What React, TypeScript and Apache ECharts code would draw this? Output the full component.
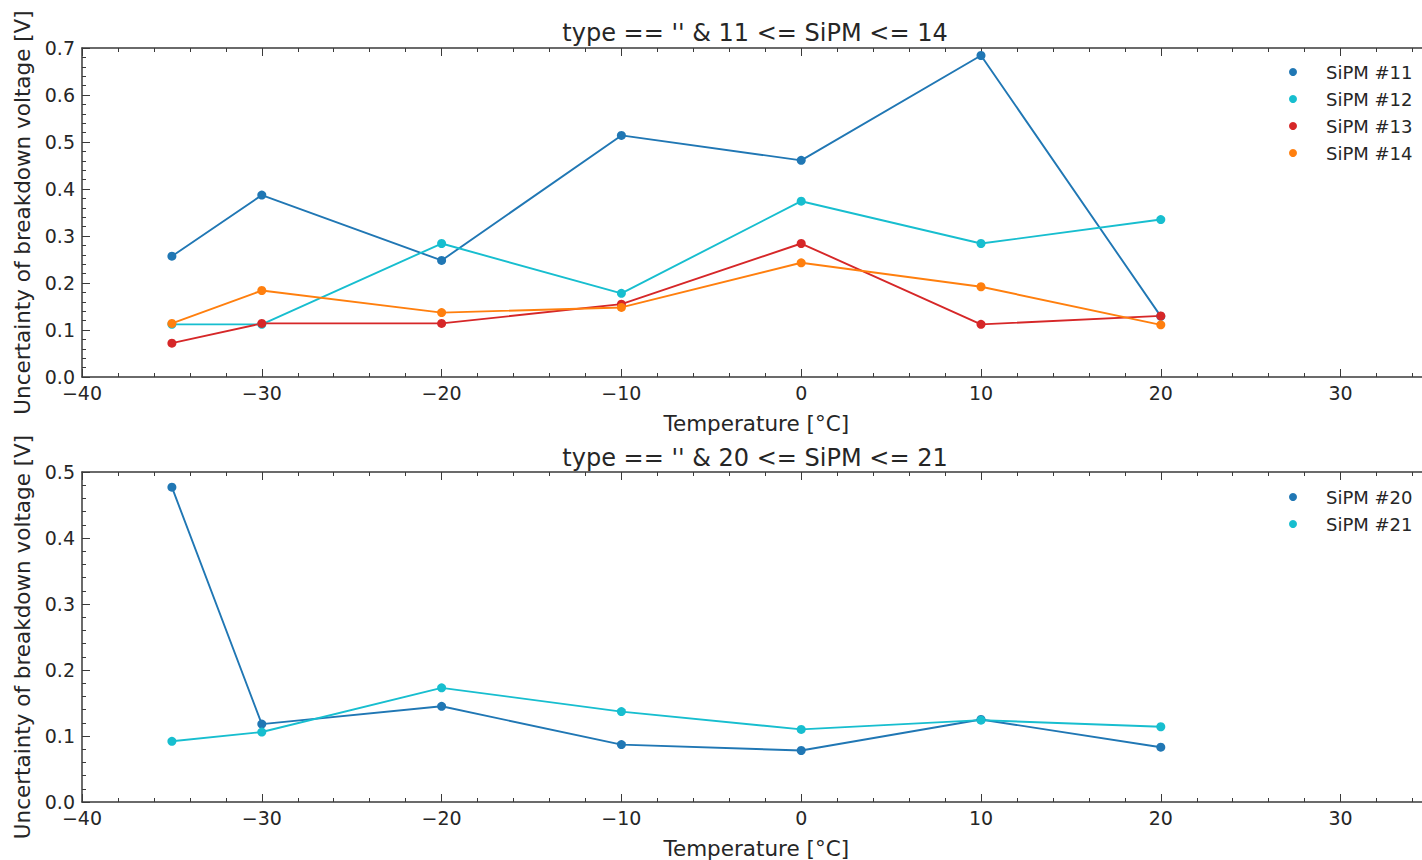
import React, { useEffect, useRef } from "react";
import * as echarts from "echarts";

// ---- data ----
const temperatures = [-35, -30, -20, -10, 0, 10, 20];
const sipm11 = [0.257, 0.387, 0.248, 0.514, 0.461, 0.684, 0.129];
const sipm12 = [0.112, 0.112, 0.284, 0.178, 0.374, 0.284, 0.335];
const sipm13 = [0.072, 0.114, 0.114, 0.155, 0.284, 0.112, 0.13];
const sipm14 = [0.114, 0.184, 0.137, 0.148, 0.243, 0.192, 0.111];
const sipm20 = [0.477, 0.118, 0.145, 0.087, 0.078, 0.125, 0.083];
const sipm21 = [0.092, 0.106, 0.173, 0.137, 0.11, 0.124, 0.114];

const topNames = ["SiPM #11", "SiPM #12", "SiPM #13", "SiPM #14"];
const bottomNames = ["SiPM #20", "SiPM #21"];
const topTitle = "type == '' & 11 <= SiPM <= 14";
const bottomTitle = "type == '' & 20 <= SiPM <= 21";
const xLabel = "Temperature [°C]";
const yLabel = "Uncertainty of breakdown voltage [V]";

const xMin = -40;
const xMax = 35;
const xMajor = 10;
const xMinor = 2;
const topYMax = 0.7;
const bottomYMax = 0.5;
const yMajor = 0.1;

const colors = {
  blue: "#2077b4",
  cyan: "#17becf",
  red: "#d62728",
  orange: "#ff7f0e",
};

const FONT = "DejaVu Sans";
const TEXT = "#262626";
const AXIS = "#3a3a3a";

const pairs = (ys: number[]) => temperatures.map((t, i) => [t, ys[i]]);

export default function App() {
  const ref = useRef<HTMLDivElement>(null);

  useEffect(() => {
    if (!ref.current) return;
    const chart = echarts.init(ref.current, null, { renderer: "svg" });

    const gridBase = { left: 82, width: 1348.5, outerBoundsMode: "none", containLabel: false };
    const gridTop = { ...gridBase, top: 48, height: 329 };
    const gridBottom = { ...gridBase, top: 472, height: 330 };

    const minus = (v: number) => (v < 0 ? "\u2212" + Math.abs(v) : String(v));

    const majorX = (gridIndex: number, position: string, labelled: boolean) => ({
      type: "value",
      gridIndex,
      position,
      min: xMin,
      max: xMax,
      interval: xMajor,
      splitLine: { show: false },
      axisLine: { show: true, onZero: false, lineStyle: { color: AXIS, width: 1.5 } },
      axisTick: { show: true, inside: true, length: 8, lineStyle: { color: AXIS, width: 1 } },
      axisLabel: labelled
        ? {
            show: true,
            margin: 9,
            lineHeight: 14,
            fontFamily: FONT,
            fontSize: 19,
            color: TEXT,
            showMaxLabel: false,
            formatter: (v: number) => minus(v),
          }
        : { show: false },
      name: labelled ? xLabel : "",
      nameLocation: "middle",
      nameGap: 35,
      nameTextStyle: { fontFamily: FONT, fontSize: 21.5, color: TEXT },
    });

    const minorX = (gridIndex: number, position: string) => ({
      type: "value",
      gridIndex,
      position,
      min: xMin,
      max: xMax,
      interval: xMinor,
      splitLine: { show: false },
      axisLine: { show: false, onZero: false },
      axisTick: { show: true, inside: true, length: 4, lineStyle: { color: AXIS, width: 1 } },
      axisLabel: { show: false },
    });

    const mainY = (gridIndex: number, max: number) => ({
      type: "value",
      gridIndex,
      position: "left",
      min: 0,
      max,
      interval: yMajor,
      splitLine: { show: false },
      axisLine: { show: true, onZero: false, lineStyle: { color: AXIS, width: 1.5 } },
      axisTick: { show: true, inside: true, length: 8, lineStyle: { color: AXIS, width: 1 } },
      minorTick: { show: true, splitNumber: 5, length: 4, lineStyle: { color: AXIS, width: 1 } },
      axisLabel: {
        show: true,
        margin: 7,
        lineHeight: 14,
        fontFamily: FONT,
        fontSize: 19,
        color: TEXT,
        formatter: (v: number) => v.toFixed(1),
      },
      name: yLabel,
      nameLocation: "middle",
      nameGap: 44,
      nameTextStyle: { fontFamily: FONT, fontSize: 21.5, color: TEXT },
    });

    const hiddenY = (gridIndex: number) => ({
      type: "value",
      gridIndex,
      show: false,
      min: 0,
      max: 1,
    });

    const lineSeries = (name: string, ys: number[], color: string, xi: number, yi: number) => ({
      type: "line",
      name,
      xAxisIndex: xi,
      yAxisIndex: yi,
      data: pairs(ys),
      symbol: "circle",
      symbolSize: 9,
      showSymbol: true,
      lineStyle: { color, width: 1.9 },
      itemStyle: { color },
      emphasis: { disabled: true },
    });

    const legendCommon = {
      orient: "vertical",
      left: 1289,
      icon: "circle",
      itemWidth: 8,
      itemHeight: 8,
      itemGap: 7,
      padding: 0,
      textStyle: {
        fontFamily: FONT,
        fontSize: 18,
        color: TEXT,
        lineHeight: 20,
        padding: [0, 0, 0, 24],
      },
    };

    chart.setOption({
      animation: false,
      backgroundColor: "#ffffff",
      textStyle: { fontFamily: FONT },
      title: [
        {
          text: topTitle,
          left: 755,
          top: 21,
          textAlign: "center",
          padding: 0,
          textStyle: { fontFamily: FONT, fontSize: 24, fontWeight: "normal", color: TEXT },
        },
        {
          text: bottomTitle,
          left: 755,
          top: 446,
          textAlign: "center",
          padding: 0,
          textStyle: { fontFamily: FONT, fontSize: 24, fontWeight: "normal", color: TEXT },
        },
      ],
      legend: [
        { ...legendCommon, top: 62, data: topNames },
        { ...legendCommon, top: 487, data: bottomNames },
      ],
      grid: [gridTop, { ...gridTop }, gridBottom, { ...gridBottom }],
      xAxis: [
        majorX(0, "bottom", true),
        majorX(0, "top", false),
        minorX(1, "bottom"),
        minorX(1, "top"),
        majorX(2, "bottom", true),
        majorX(2, "top", false),
        minorX(3, "bottom"),
        minorX(3, "top"),
      ],
      yAxis: [mainY(0, topYMax), hiddenY(1), mainY(2, bottomYMax), hiddenY(3)],
      series: [
        lineSeries(topNames[0], sipm11, colors.blue, 0, 0),
        lineSeries(topNames[1], sipm12, colors.cyan, 0, 0),
        lineSeries(topNames[2], sipm13, colors.red, 0, 0),
        lineSeries(topNames[3], sipm14, colors.orange, 0, 0),
        lineSeries(bottomNames[0], sipm20, colors.blue, 4, 2),
        lineSeries(bottomNames[1], sipm21, colors.cyan, 4, 2),
      ],
    });

    return () => chart.dispose();
  }, []);

  return (
    <div
      ref={ref}
      style={{ position: "absolute", left: 0, top: 0, width: 1422, height: 860, background: "#fff" }}
    />
  );
}
